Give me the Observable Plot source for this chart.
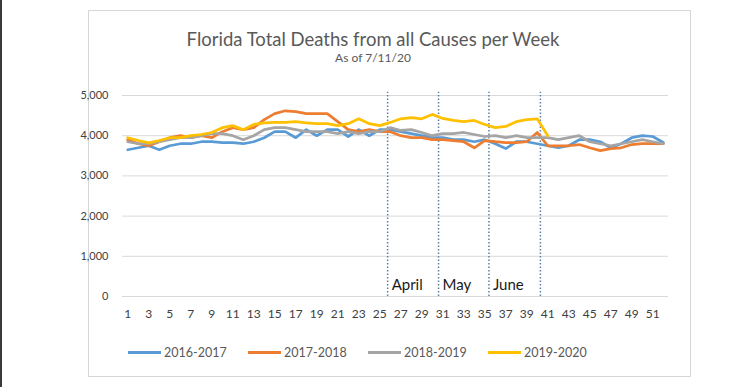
<!DOCTYPE html>
<html><head><meta charset="utf-8">
<script src="https://cdn.jsdelivr.net/npm/d3@7"></script>
<script src="https://cdn.jsdelivr.net/npm/@observablehq/plot@0.6"></script>
<style>
body{margin:0;background:#fff;}
#wrap{position:relative;width:752px;height:387px;overflow:hidden;font-family:Lato,"Open Sans",sans-serif;background:#fff;}
#edge{position:absolute;left:0;top:0;width:2px;height:387px;background:#3a3a3a;}
#frame{position:absolute;left:88px;top:10px;width:603px;height:367px;border:1px solid #d6d6d6;box-sizing:border-box;}
#title{position:absolute;left:88px;width:570px;top:28px;text-align:center;font-size:18.5px;color:#595959;white-space:nowrap;}
#sub{position:absolute;left:88px;width:570px;top:50px;text-align:center;font-size:12px;color:#595959;white-space:nowrap;}
#chart{position:absolute;left:0;top:0;}
.leg{position:absolute;top:344px;height:16px;display:flex;align-items:center;font-size:12.5px;color:#595959;white-space:nowrap;}
.leg span.sw{display:inline-block;width:33px;height:3px;margin-right:3px;}
</style>
</head><body>
<div id="wrap">
  <div id="edge"></div>
  <div id="frame"></div>
  <div id="chart"></div>
  <div id="title">Florida Total Deaths from all Causes per Week</div>
  <div id="sub">As of 7/11/20</div>
  <div id="legend"></div>
</div>
<script>
const seasons = ["2016-2017","2017-2018","2018-2019","2019-2020"];
const seasonColors = ["#5B9BD5","#ED7D31","#A5A5A5","#FFC000"];
const weekTicks = [1,3,5,7,9,11,13,15,17,19,21,23,25,27,29,31,33,35,37,39,41,43,45,47,49,51];
const yTicks = [0,1000,2000,3000,4000,5000];

const deaths2016_2017 = [3650,3700,3750,3650,3750,3800,3800,3850,3850,3830,3830,3800,3850,3950,4100,4100,3950,4150,4000,4150,4150,3980,4150,4000,4150,4150,4100,4050,4000,3950,3950,3900,3900,3850,3900,3800,3680,3850,3850,3800,3750,3700,3750,3900,3900,3850,3700,3800,3950,4000,3980,3830];
const deaths2017_2018 = [3900,3800,3750,3850,3950,4000,3950,4000,3950,4100,4200,4150,4200,4400,4550,4620,4600,4550,4550,4550,4350,4150,4100,4150,4100,4100,4000,3950,3950,3900,3900,3880,3850,3700,3880,3850,3830,3830,3850,4080,3750,3750,3750,3780,3700,3630,3680,3700,3780,3800,3800,3800];
const deaths2018_2019 = [3850,3800,3800,3850,3900,3950,3950,4000,4050,4050,4000,3900,4000,4150,4200,4200,4150,4100,4100,4100,4050,4100,4050,4100,4100,4200,4130,4150,4080,4000,4050,4050,4080,4030,3980,4000,3950,4000,3950,3950,3950,3900,3950,4000,3850,3800,3750,3800,3850,3900,3850,3800];
const deaths2019_2020 = [3950,3880,3820,3880,3950,3950,4000,4030,4080,4200,4250,4150,4280,4320,4330,4330,4350,4320,4300,4300,4250,4300,4420,4300,4250,4330,4420,4450,4420,4530,4430,4380,4350,4380,4280,4200,4230,4350,4400,4420,4000];

const monthLines = [25.75, 30.6, 35.4, 40.3];
const monthNames = ["April","May","June"];

const allSeries = [deaths2016_2017, deaths2017_2018, deaths2018_2019, deaths2019_2020];
const rows = [];
allSeries.forEach((arr, i) => arr.forEach((v, j) => rows.push({week: j + 1, deaths: v, season: seasons[i]})));
const labelRows = monthNames.map((m, i) => ({x: monthLines[i], text: m}));

const chart = Plot.plot({
  width: 752, height: 387,
  marginLeft: 122, marginRight: 84, marginTop: 95, marginBottom: 91,
  style: {fontFamily: "Lato, 'Open Sans', sans-serif", fontSize: "11px", color: "#595959", background: "transparent", overflow: "visible"},
  x: {domain: [0.5, 52.5]},
  y: {domain: [0, 5000]},
  color: {domain: seasons, range: seasonColors},
  marks: [
    Plot.ruleY(yTicks, {y: d => d, stroke: "#d9d9d9", strokeWidth: 1}),
    Plot.axisX(weekTicks, {tickSize: 0, tickPadding: 13, label: null, fontSize: 12, fill: "#404040"}),
    Plot.axisY(yTicks, {tickSize: 0, tickPadding: 14, label: null, tickFormat: d3.format(","), fontSize: 11, fill: "#404040"}),
    Plot.ruleX(monthLines, {x: d => d, y1: 0, y2: 5080, stroke: "#5b7fa6", strokeWidth: 1.5, strokeDasharray: "1.5,2"}),
    Plot.text(labelRows, {x: "x", y: 270, text: "text", textAnchor: "start", dx: 4, fontSize: 15, fill: "#1a1a1a"}),
    Plot.line(rows, {x: "week", y: "deaths", stroke: "season", z: "season", strokeWidth: 2.75, strokeLinejoin: "round"})
  ]
});
document.getElementById("chart").appendChild(chart);

const legend = document.getElementById("legend");
seasons.forEach((s, i) => {
  const d = document.createElement("div");
  d.className = "leg";
  d.style.left = (128 + i * 120) + "px";
  d.innerHTML = `<span class="sw" style="background:${seasonColors[i]}"></span>${s}`;
  legend.appendChild(d);
});
</script>
</body></html>
